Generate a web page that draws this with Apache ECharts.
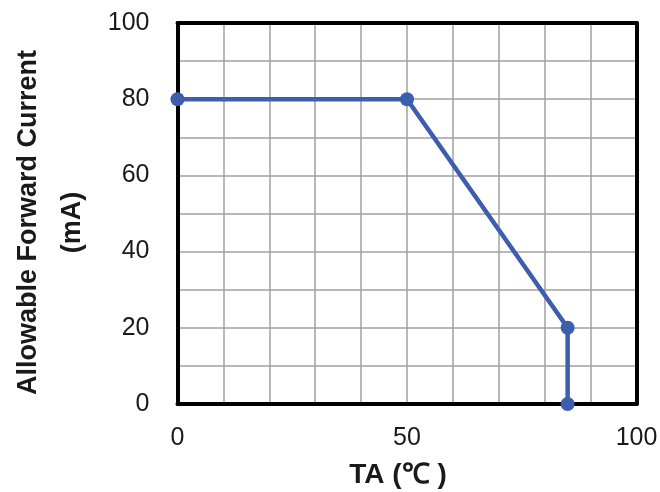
<!DOCTYPE html>
<html>
<head>
<meta charset="utf-8">
<script src="https://cdn.jsdelivr.net/npm/echarts@6/dist/echarts.min.js"></script>
<style>
html,body{margin:0;padding:0;background:#fff;}
#c{width:660px;height:492px;}
</style>
</head>
<body>
<div id="c"></div>
<script>
const temperatures = [0, 50, 85, 85];
const currents = [80, 80, 20, 0];
const xTickLabels = [0, 50, 100];
const yTickLabels = [0, 20, 40, 60, 80, 100];
const xName = 'TA (℃ )';
const yName = 'Allowable Forward Current\n(mA)';

const FONT = '"Liberation Sans", Arial, sans-serif';
const chart = echarts.init(document.getElementById('c'));
const lineData = temperatures.map((t, i) => [t, currents[i]]);

const borderAxis = {
  show: true, min: 0, max: 100, interval: 10,
  axisLine: {show: true, onZero: false, lineStyle: {color: '#000', width: 4}},
  axisTick: {show: false}, axisLabel: {show: false}, splitLine: {show: false}
};

chart.setOption({
  animation: false,
  backgroundColor: '#fff',
  grid: {left: 177.5, right: 23.5, top: 23, bottom: 88, containLabel: false, outerBoundsMode: 'none'},
  xAxis: [{
    type: 'value', min: 0, max: 100, interval: 10, position: 'bottom',
    name: xName, nameLocation: 'middle', nameGap: 57,
    nameTextStyle: {fontFamily: FONT, fontSize: 28, fontWeight: 'bold', color: '#1a1a1a', padding: [0, 18, 0, 0]},
    axisLine: {show: true, onZero: false, lineStyle: {color: '#000', width: 4}},
    axisTick: {show: false},
    axisLabel: {
      margin: 22, fontFamily: FONT, fontSize: 25, color: '#1a1a1a',
      formatter: v => xTickLabels.includes(v) ? String(v) : ''
    },
    splitLine: {show: true, lineStyle: {color: '#a0a0a0', width: 1.5}}
  }, Object.assign({position: 'top', type: 'value'}, borderAxis)],
  yAxis: [{
    type: 'value', min: 0, max: 100, interval: 10, position: 'left',
    name: yName, nameLocation: 'middle', nameGap: 83, nameRotate: 90,
    nameTextStyle: {fontFamily: FONT, fontSize: 27, fontWeight: 'bold', color: '#1a1a1a', lineHeight: 44, padding: [0, 18, 0, 0]},
    axisLine: {show: true, onZero: false, lineStyle: {color: '#000', width: 4}},
    axisTick: {show: false},
    axisLabel: {
      margin: 28, fontFamily: FONT, fontSize: 25, color: '#1a1a1a',
      formatter: v => yTickLabels.includes(v) ? String(v) : ''
    },
    splitLine: {show: true, lineStyle: {color: '#a0a0a0', width: 1.5}}
  }, Object.assign({position: 'right', type: 'value'}, borderAxis)],
  series: [{
    type: 'line',
    data: lineData,
    clip: false,
    symbol: 'circle',
    symbolSize: 14,
    lineStyle: {color: '#3d5dae', width: 4.5},
    itemStyle: {color: '#3d5dae'},
    z: 5
  }]
});
</script>
</body>
</html>
